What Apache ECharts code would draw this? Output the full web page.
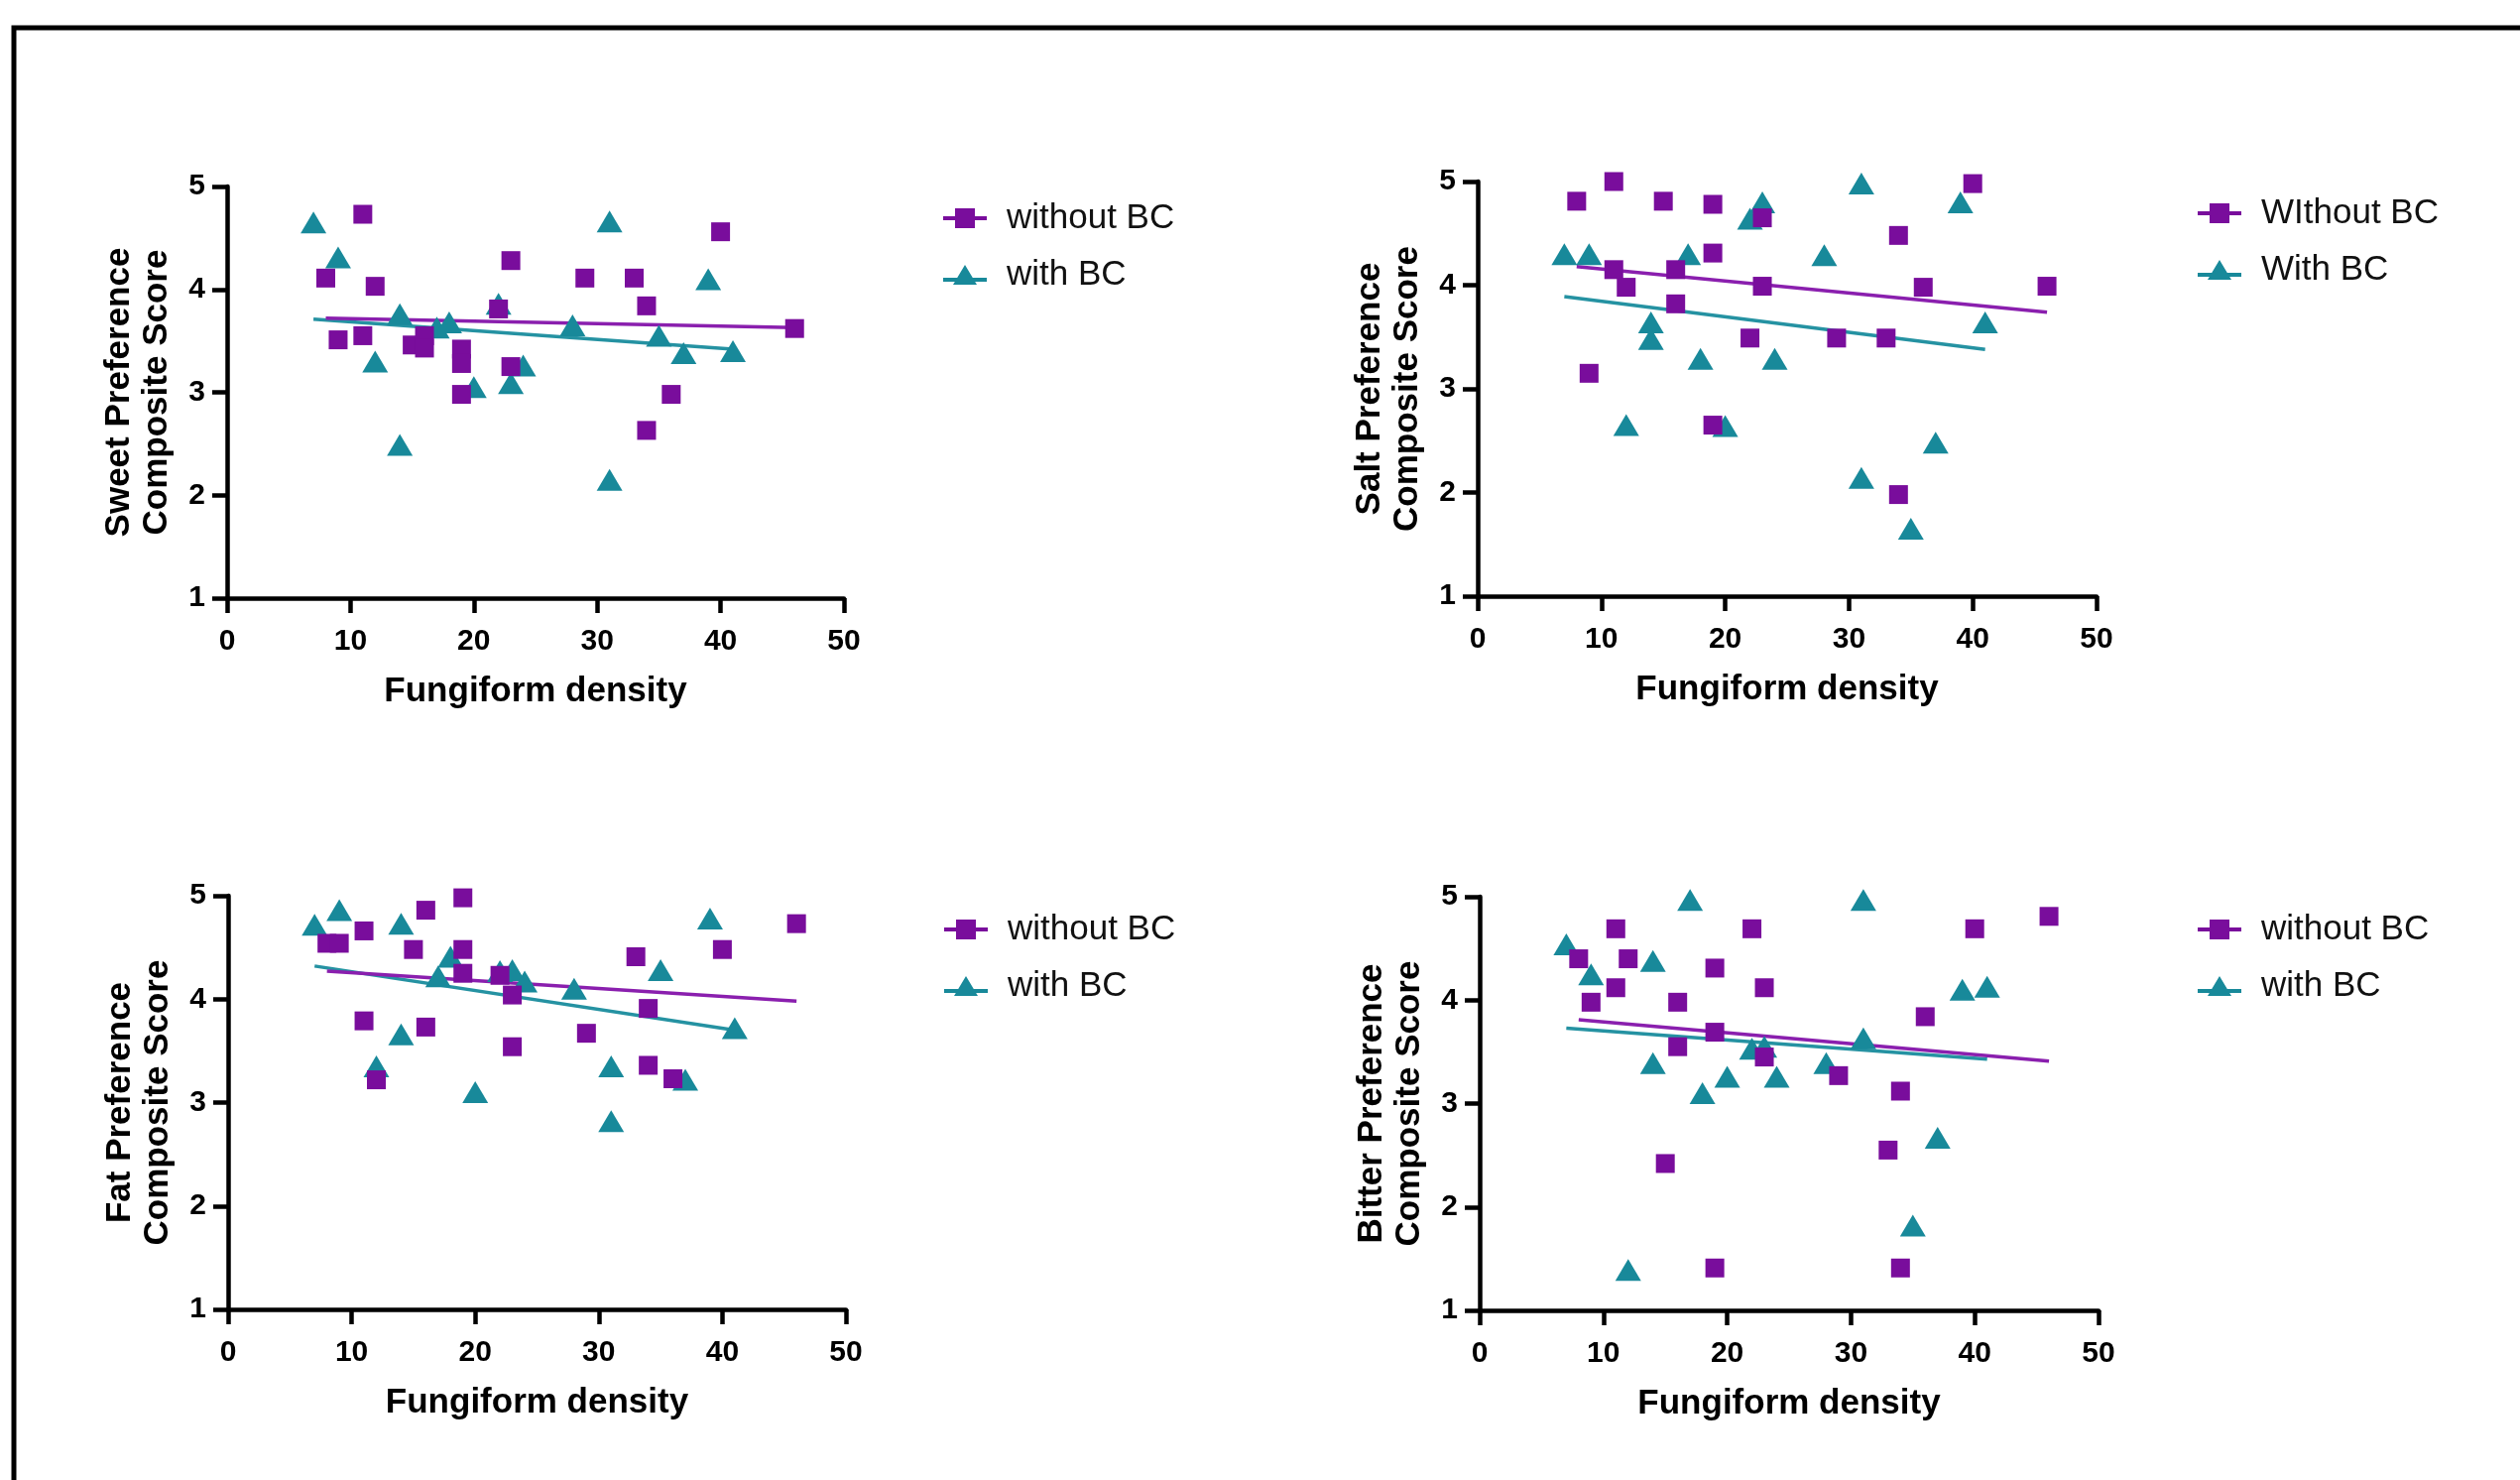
<!DOCTYPE html>
<html><head><meta charset="utf-8">
<script src="https://cdn.jsdelivr.net/npm/echarts@6/dist/echarts.min.js"></script>
<style>html,body{margin:0;padding:0;background:#fff}#c{width:2541px;height:1492px}</style>
</head><body><div id="c"></div><script>
// ---------- tick labels ----------
const xTickValues = [0, 10, 20, 30, 40, 50];
const yTickValues = [1, 2, 3, 4, 5];
const xAxisTitle = 'Fungiform density';

// ---------- Sweet ----------
const sweetWithoutX = [8, 9, 11, 11, 12, 15, 16, 16, 19, 19, 19, 22, 23, 23, 29, 33, 34, 34, 36, 40, 46];
const sweetWithoutY = [4.11, 3.51, 4.73, 3.55, 4.03, 3.46, 3.55, 3.43, 3.42, 3.28, 2.98, 3.81, 4.28, 3.25, 4.11, 4.11, 3.84, 2.63, 2.98, 4.56, 3.62];
const sweetWithX = [7, 9, 12, 14, 14, 17, 18, 20, 22, 23, 24, 28, 31, 31, 35, 37, 39, 41];
const sweetWithY = [4.65, 4.31, 3.30, 3.76, 2.49, 3.63, 3.68, 3.05, 3.86, 3.09, 3.26, 3.65, 4.66, 2.15, 3.55, 3.38, 4.10, 3.40];
const sweetWithoutFit = [[8, 3.72], [46, 3.63]];
const sweetWithFit = [[7, 3.71], [41, 3.42]];

// ---------- Salt ----------
const saltWithoutX = [8, 9, 11, 11, 12, 15, 16, 16, 19, 19, 19, 22, 23, 23, 29, 33, 34, 34, 36, 40, 46];
const saltWithoutY = [4.81, 3.15, 5.00, 4.15, 3.98, 4.81, 4.15, 3.82, 4.78, 4.31, 2.65, 3.49, 4.65, 3.99, 3.49, 3.49, 4.48, 1.98, 3.98, 4.98, 3.99];
const saltWithX = [7, 9, 12, 14, 14, 17, 18, 20, 22, 23, 24, 28, 31, 31, 35, 37, 39, 41];
const saltWithY = [4.30, 4.30, 2.65, 3.64, 3.48, 4.30, 3.29, 2.64, 4.64, 4.80, 3.29, 4.29, 4.98, 2.14, 1.65, 2.48, 4.80, 3.64];
const saltWithoutFit = [[8, 4.18], [46, 3.74]];
const saltWithFit = [[7, 3.89], [41, 3.38]];

// ---------- Fat ----------
const fatWithoutX = [8, 9, 11, 11, 12, 15, 16, 16, 19, 19, 19, 22, 23, 23, 29, 33, 34, 34, 36, 40, 46];
const fatWithoutY = [4.54, 4.54, 4.66, 3.79, 3.22, 4.48, 4.86, 3.73, 4.98, 4.48, 4.25, 4.23, 4.04, 3.54, 3.67, 4.41, 3.91, 3.36, 3.23, 4.48, 4.73];
const fatWithX = [7, 9, 12, 14, 14, 17, 18, 20, 22, 23, 24, 28, 31, 31, 35, 37, 39, 41];
const fatWithY = [4.72, 4.86, 3.35, 4.73, 3.66, 4.22, 4.41, 3.10, 4.27, 4.28, 4.17, 4.10, 3.35, 2.82, 4.28, 3.22, 4.78, 3.72];
const fatWithoutFit = [[8, 4.27], [46, 3.98]];
const fatWithFit = [[7, 4.32], [41, 3.70]];

// ---------- Bitter ----------
const bitterWithoutX = [8, 9, 11, 11, 12, 15, 16, 16, 19, 19, 19, 22, 23, 23, 29, 33, 34, 34, 36, 40, 46];
const bitterWithoutY = [4.40, 3.98, 4.69, 4.12, 4.40, 2.42, 3.98, 3.55, 4.31, 3.69, 1.41, 4.69, 4.12, 3.45, 3.27, 2.55, 3.12, 1.41, 3.84, 4.69, 4.81];
const bitterWithX = [7, 9, 12, 14, 14, 17, 18, 20, 22, 23, 24, 28, 31, 31, 35, 37, 39, 41];
const bitterWithY = [4.54, 4.25, 1.39, 4.38, 3.39, 4.97, 3.10, 3.26, 3.53, 3.55, 3.26, 3.39, 4.97, 3.63, 1.82, 2.67, 4.10, 4.13];
const bitterWithoutFit = [[8, 3.81], [46, 3.41]];
const bitterWithFit = [[7, 3.73], [41, 3.43]];

// ---------- panel definitions ----------
const panels = [
  { yTitle: 'Sweet Preference\nComposite Score', names: ['without BC', 'with BC'],
    wx: sweetWithoutX, wy: sweetWithoutY, bx: sweetWithX, by: sweetWithY, wf: sweetWithoutFit, bf: sweetWithFit },
  { yTitle: 'Salt Preference\nComposite Score', names: ['WIthout BC', 'With BC'],
    wx: saltWithoutX, wy: saltWithoutY, bx: saltWithX, by: saltWithY, wf: saltWithoutFit, bf: saltWithFit },
  { yTitle: 'Fat Preference\nComposite Score', names: ['without BC', 'with BC'],
    wx: fatWithoutX, wy: fatWithoutY, bx: fatWithX, by: fatWithY, wf: fatWithoutFit, bf: fatWithFit },
  { yTitle: 'Bitter Preference\nComposite Score', names: ['without BC', 'with BC'],
    wx: bitterWithoutX, wy: bitterWithoutY, bx: bitterWithX, by: bitterWithY, wf: bitterWithoutFit, bf: bitterWithFit }
];

const layout = [
  { grid: { left: 229, top: 188, width: 622, height: 415 }, legend: { left: 946, top: 197 } },
  { grid: { left: 1490, top: 183, width: 624, height: 418 }, legend: { left: 2211, top: 192 } },
  { grid: { left: 230, top: 903, width: 623, height: 417 }, legend: { left: 947, top: 914 } },
  { grid: { left: 1492, top: 904, width: 624, height: 417 }, legend: { left: 2211, top: 914 } }
];

const FONT = '"Liberation Sans", Arial, Helvetica, sans-serif';
const PURPLE = '#790D9C';
const TEAL = '#18899A';
const PURPLE_LINE = '#8A1FAE';
const TEAL_LINE = '#2592A2';
const SQ_ICON = 'path://M0,8L44,8L44,12L0,12Z M12,0L32,0L32,20L12,20Z';
const TRI_ICON = 'path://M0,13L44,13L44,17L0,17Z M22,0L34,20L10,20Z';

const zip = (xs, ys) => xs.map((x, i) => [x, ys[i]]);

const grids = [], xAxes = [], yAxes = [], legends = [], series = [];
panels.forEach((p, i) => {
  grids.push(Object.assign({ containLabel: false }, layout[i].grid));
  xAxes.push({
    gridIndex: i, type: 'value',
    min: xTickValues[0], max: xTickValues[xTickValues.length - 1],
    interval: xTickValues[1] - xTickValues[0],
    name: xAxisTitle, nameLocation: 'middle', nameGap: 77,
    nameTextStyle: { fontFamily: FONT, fontSize: 35, fontWeight: 'bold', color: '#000' },
    axisLine: { onZero: false, lineStyle: { color: '#000', width: 4.5 } },
    axisTick: { show: true, inside: false, length: 15, lineStyle: { color: '#000', width: 4.5 } },
    axisLabel: { margin: 29, fontFamily: FONT, fontSize: 30, fontWeight: 'bold', color: '#000' },
    splitLine: { show: false }
  });
  yAxes.push({
    gridIndex: i, type: 'value',
    min: yTickValues[0], max: yTickValues[yTickValues.length - 1],
    interval: yTickValues[1] - yTickValues[0],
    name: p.yTitle, nameLocation: 'middle', nameGap: 52,
    nameTextStyle: { fontFamily: FONT, fontSize: 35, fontWeight: 'bold', color: '#000', lineHeight: 38 },
    axisLine: { show: true, onZero: false, lineStyle: { color: '#000', width: 4.5 } },
    axisTick: { show: true, inside: false, length: 15, lineStyle: { color: '#000', width: 4.5 } },
    axisLabel: { margin: 22, fontFamily: FONT, fontSize: 30, fontWeight: 'bold', color: '#000' },
    splitLine: { show: false }
  });
  legends.push({
    orient: 'vertical', left: layout[i].legend.left, top: layout[i].legend.top,
    itemWidth: 44, itemHeight: 20, itemGap: 21, selectedMode: false,
    data: [{ name: p.names[0], icon: SQ_ICON }, { name: p.names[1], icon: TRI_ICON }],
    textStyle: { fontFamily: FONT, fontSize: 35, color: '#111', lineHeight: 36, padding: [0, 0, 0, 15] }
  });
  series.push({
    type: 'line', name: p.names[1] + ' fit', xAxisIndex: i, yAxisIndex: i, data: p.bf,
    symbol: 'none', silent: true, z: 1, lineStyle: { color: TEAL_LINE, width: 3.5 }, itemStyle: { color: TEAL_LINE }
  });
  series.push({
    type: 'line', name: p.names[0] + ' fit', xAxisIndex: i, yAxisIndex: i, data: p.wf,
    symbol: 'none', silent: true, z: 1, lineStyle: { color: PURPLE_LINE, width: 3.5 }, itemStyle: { color: PURPLE_LINE }
  });
  series.push({
    type: 'scatter', name: p.names[1], xAxisIndex: i, yAxisIndex: i, data: zip(p.bx, p.by),
    symbol: 'triangle', symbolSize: [26, 22], z: 2, itemStyle: { color: TEAL, opacity: 1 }
  });
  series.push({
    type: 'scatter', name: p.names[0], xAxisIndex: i, yAxisIndex: i, data: zip(p.wx, p.wy),
    symbol: 'rect', symbolSize: 19, z: 3, itemStyle: { color: PURPLE, opacity: 1 }
  });
});

const chart = echarts.init(document.getElementById('c'), null, { renderer: 'canvas' });
chart.setOption({
  backgroundColor: '#fff',
  animation: false,
  grid: grids, xAxis: xAxes, yAxis: yAxes, legend: legends, series: series,
  graphic: [{
    type: 'rect', z: 100, silent: true,
    shape: { x: 14, y: 28, width: 2700, height: 1600 },
    style: { fill: null, stroke: '#000', lineWidth: 5 }
  }]
});
</script></body></html>
